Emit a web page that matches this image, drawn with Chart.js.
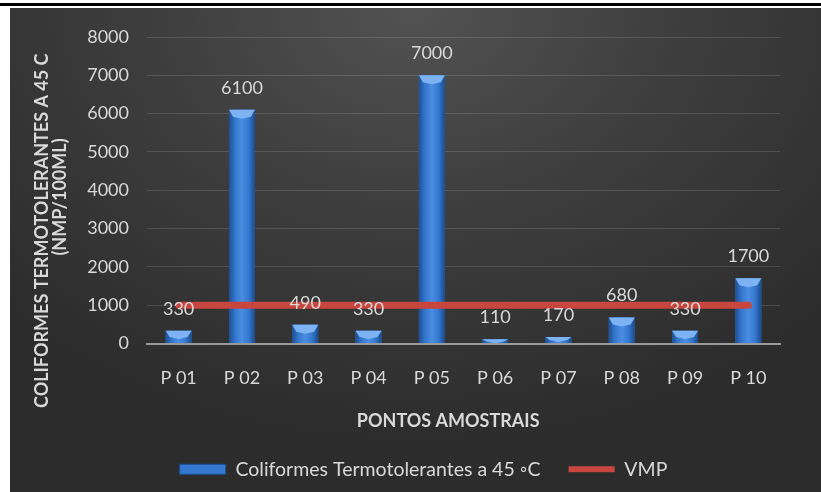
<!DOCTYPE html>
<html>
<head>
<meta charset="utf-8">
<script src="https://cdn.jsdelivr.net/npm/chart.js@4"></script>
<style>
  html, body { margin: 0; padding: 0; background: #fff; }
  body { width: 821px; height: 492px; position: relative; overflow: hidden; }
  #rule { position: absolute; left: 0; top: 3px; width: 821px; height: 3px; background: #000; }
  #panel {
    position: absolute; left: 10px; top: 8px; width: 811px; height: 484px;
    background: radial-gradient(ellipse 70% 90% at 50% 0%, #525252 0%, #3e3e3e 45%, #2c2c2c 100%);
  }
</style>
</head>
<body>
<div id="rule"></div>
<div id="panel"><canvas id="chart" width="811" height="484"></canvas></div>
<script>
// dados
const pontos = ["P 01", "P 02", "P 03", "P 04", "P 05", "P 06", "P 07", "P 08", "P 09", "P 10"];
const coliformes = [330, 6100, 490, 330, 7000, 110, 170, 680, 330, 1700];
const vmp = [1000, 1000, 1000, 1000, 1000, 1000, 1000, 1000, 1000, 1000];
const yTicks = [0, 1000, 2000, 3000, 4000, 5000, 6000, 7000, 8000];

const textColor = "#d9d9d9";
const fontFam = "Lato, 'Open Sans', sans-serif";

// barras com efeito 3D (gradiente + chanfro no topo)
const barStyle = {
  id: "barStyle",
  afterDatasetDraw(chart, args) {
    if (args.index !== 0) return;
    const ctx = chart.ctx;
    args.meta.data.forEach((bar) => {
      const w = bar.width, x0 = bar.x - w / 2, top = bar.y, bottom = bar.base;
      const g = ctx.createLinearGradient(x0, 0, x0 + w, 0);
      g.addColorStop(0, "#1d4f95");
      g.addColorStop(0.25, "#3579d0");
      g.addColorStop(0.5, "#4a8de2");
      g.addColorStop(0.75, "#3579d0");
      g.addColorStop(1, "#1b4a8c");
      ctx.save();
      ctx.fillStyle = g;
      ctx.fillRect(x0, top, w, bottom - top);
      const bev = Math.min(7, (bottom - top) / 2);
      ctx.fillStyle = "#7db3f2";
      ctx.beginPath();
      ctx.moveTo(x0, top);
      ctx.lineTo(x0 + w, top);
      ctx.lineTo(x0 + w - 4, top + bev);
      ctx.lineTo(bar.x, top + bev + 2);
      ctx.lineTo(x0 + 4, top + bev);
      ctx.closePath();
      ctx.fill();
      ctx.restore();
    });
  },
};

// rotulos de valores acima das barras
const valueLabels = {
  id: "valueLabels",
  afterDatasetsDraw(chart) {
    const ctx = chart.ctx;
    const meta = chart.getDatasetMeta(0);
    ctx.save();
    ctx.font = "18px " + fontFam;
    ctx.fillStyle = textColor;
    ctx.textAlign = "center";
    ctx.textBaseline = "middle";
    meta.data.forEach((bar, i) => {
      ctx.fillText(String(coliformes[i]), bar.x, bar.y - 22);
    });
    ctx.restore();
  },
};

new Chart(document.getElementById("chart"), {
  data: {
    labels: pontos,
    datasets: [
      {
        type: "bar",
        label: "Coliformes Termotolerantes a 45 \u25E6C",
        data: coliformes,
        backgroundColor: "#3579d0",
        barPercentage: 0.41,
        categoryPercentage: 1,
        order: 1,
      },
      {
        type: "line",
        label: "VMP",
        data: vmp,
        borderColor: "#c9463f",
        backgroundColor: "#c9463f",
        borderWidth: 7,
        borderCapStyle: "round",
        pointRadius: 0,
        order: 0,
      },
    ],
  },
  options: {
    responsive: false,
    animation: false,
    layout: { padding: { left: 57, right: 41, top: 29, bottom: 3 } },
    plugins: {
      tooltip: { enabled: false },
      legend: {
        position: "bottom",
        labels: {
          usePointStyle: true,
          pointStyleWidth: 46,
          boxHeight: 10,
          padding: 28,
          color: textColor,
          font: { family: fontFam, size: 19.5 },
          generateLabels: (chart) =>
            chart.data.datasets.map((ds, i) => ({
              text: ds.label,
              datasetIndex: i,
              fillStyle: i === 0 ? "#3579d0" : ds.borderColor,
              strokeStyle: i === 0 ? "#1d4f95" : ds.borderColor,
              lineWidth: i === 0 ? 1 : 6,
              pointStyle: i === 0 ? "rect" : "line",
              fontColor: textColor,
              hidden: false,
            })),
        },
      },
    },
    scales: {
      x: {
        grid: { display: false, drawTicks: false },
        border: { color: "#9a9a9a", width: 2 },
        ticks: { color: textColor, padding: 24, font: { family: fontFam, size: 18 } },
        title: {
          display: true,
          text: "PONTOS AMOSTRAIS       ",
          color: textColor,
          padding: { top: 0, bottom: 0 },
          font: { family: fontFam, size: 18, weight: "bold" },
        },
        afterFit(s) { s.height = 88; },
      },
      y: {
        min: 0,
        max: 8000,
        afterBuildTicks(s) { s.ticks = yTicks.map((v) => ({ value: v })); },
        grid: { color: "rgba(255,255,255,0.13)", drawTicks: false },
        border: { display: false },
        ticks: {
          color: textColor,
          padding: 18,
          font: { family: fontFam, size: 18 },
          callback: (v) => String(v),
        },
        title: {
          display: true,
          // espacos no fim empurram o texto para baixo, como no original
          text: ["COLIFORMES TERMOTOLERANTES A 45 C\u2003\u2003\u2003\u2003\u2003\u2003", "(NMP/100ML)\u2003"],
          color: textColor,
          padding: { top: -34, bottom: 0 },
          font: { family: fontFam, size: 18, weight: "bold", lineHeight: 1 },
        },
        afterFit(s) { s.width = 80; },
      },
    },
  },
  plugins: [barStyle, valueLabels],
});
</script>
</body>
</html>
